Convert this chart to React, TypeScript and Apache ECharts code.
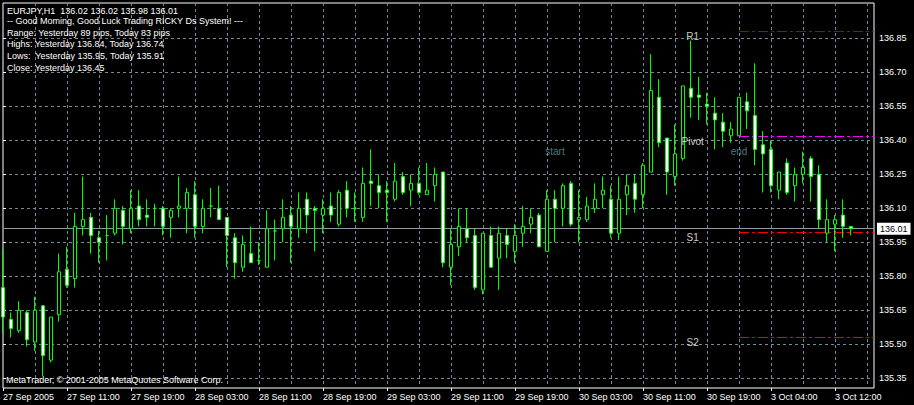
import React, { useEffect, useRef } from 'react';
import * as echarts from 'echarts';

// ---- data (EURJPY, H1) ----
const opens = [
  135.75, 135.61, 135.56, 135.64, 135.51, 135.67, 135.43, 135.63, 135.83, 135.79,
  136.02, 136.06, 135.97, 135.98, 135.99, 136.09, 136.01, 136.11, 136.07, 136.10,
  136.10, 136.06, 136.10, 136.10, 136.16, 136.02, 136.11, 136.10, 136.06, 135.97,
  135.84, 135.90, 135.87, 135.84, 136.00, 136.01, 136.07, 136.01, 136.14, 136.10,
  136.07, 136.11, 136.03, 136.18, 136.10, 136.06, 136.22, 136.20, 136.18, 136.14,
  136.24, 136.18, 136.21, 136.16, 136.20, 136.26, 135.84, 135.93, 136.01, 135.98,
  135.74, 135.98, 135.88, 135.98, 135.91, 135.99, 136.03, 136.07, 135.91, 136.14,
  136.10, 136.21, 136.05, 136.05, 136.10, 136.16, 136.14, 135.99, 136.16, 136.21,
  136.16, 136.26, 136.59, 136.41, 136.24, 136.32, 136.63, 136.60, 136.56, 136.52,
  136.48, 136.42, 136.42, 136.57, 136.51, 136.38, 136.36, 136.18, 136.30, 136.20,
  136.25, 136.32, 136.25, 135.99, 136.03, 136.07, 136.02,
];
const closes = [
  135.62, 135.57, 135.65, 135.52, 135.65, 135.45, 135.62, 135.82, 135.76, 136.02,
  136.05, 135.98, 135.95, 135.98, 136.10, 136.02, 136.10, 136.05, 136.06, 136.10,
  136.02, 136.09, 136.11, 136.17, 136.02, 136.10, 136.11, 136.05, 135.98, 135.86,
  135.94, 135.86, 135.87, 136.01, 136.00, 136.06, 136.02, 136.10, 136.07, 136.09,
  136.10, 136.07, 136.17, 136.10, 136.10, 136.21, 136.21, 136.17, 136.17, 136.22,
  136.17, 136.21, 136.17, 136.18, 136.25, 135.86, 135.94, 136.02, 135.97, 135.75,
  135.99, 135.84, 135.99, 135.94, 135.98, 136.02, 136.06, 135.93, 136.14, 136.10,
  136.20, 136.03, 136.06, 136.11, 136.14, 136.18, 135.99, 136.14, 136.20, 136.14,
  136.29, 136.62, 136.39, 136.26, 136.34, 136.64, 136.59, 136.59, 136.55, 136.49,
  136.44, 136.45, 136.59, 136.53, 136.36, 136.34, 136.20, 136.26, 136.17, 136.25,
  136.28, 136.24, 136.05, 136.05, 136.05, 136.02, 136.01,
];
const lows = [
  135.55, 135.53, 135.55, 135.49, 135.47, 135.36, 135.42, 135.60, 135.75, 135.75,
  135.98, 135.90, 135.86, 135.87, 135.98, 135.94, 135.99, 136.02, 136.02, 136.02,
  135.98, 135.97, 136.06, 135.99, 135.97, 135.99, 136.06, 136.05, 135.84, 135.79,
  135.82, 135.86, 135.85, 135.84, 135.87, 135.95, 135.86, 135.97, 135.99, 135.91,
  135.99, 136.04, 136.02, 136.06, 136.04, 136.04, 136.11, 136.10, 136.04, 136.13,
  136.16, 136.11, 136.16, 136.16, 136.13, 135.84, 135.76, 135.89, 135.95, 135.74,
  135.72, 135.84, 135.74, 135.88, 135.86, 135.93, 135.99, 135.93, 135.91, 135.95,
  136.02, 136.02, 135.95, 136.04, 136.08, 136.10, 135.97, 135.96, 136.07, 136.08,
  136.10, 136.26, 136.37, 136.16, 136.20, 136.31, 136.50, 136.49, 136.47, 136.36,
  136.37, 136.39, 136.42, 136.45, 136.29, 136.17, 136.17, 136.14, 136.16, 136.13,
  136.21, 136.13, 136.01, 135.95, 135.91, 135.97, 135.98,
];
const highs = [
  135.92, 135.64, 135.69, 135.65, 135.71, 135.67, 135.62, 135.90, 135.93, 136.08,
  136.24, 136.08, 136.00, 136.07, 136.14, 136.11, 136.18, 136.18, 136.14, 136.12,
  136.11, 136.10, 136.24, 136.19, 136.22, 136.14, 136.19, 136.20, 136.06, 135.99,
  135.98, 136.02, 135.95, 136.09, 136.05, 136.14, 136.11, 136.17, 136.17, 136.11,
  136.14, 136.17, 136.18, 136.22, 136.17, 136.28, 136.36, 136.25, 136.22, 136.30,
  136.26, 136.25, 136.28, 136.30, 136.28, 136.26, 136.01, 136.10, 136.10, 136.01,
  135.99, 136.02, 136.02, 136.01, 136.03, 136.11, 136.10, 136.08, 136.18, 136.18,
  136.21, 136.22, 136.18, 136.15, 136.21, 136.24, 136.20, 136.24, 136.25, 136.25,
  136.30, 136.78, 136.67, 136.41, 136.47, 136.64, 136.84, 136.68, 136.61, 136.59,
  136.52, 136.48, 136.59, 136.61, 136.74, 136.44, 136.40, 136.26, 136.32, 136.28,
  136.35, 136.33, 136.29, 136.14, 136.07, 136.14, 136.02,
];

const xTickIdx = [0, 8, 16, 24, 32, 40, 48, 56, 64, 72, 80, 88, 96, 104];
const xTickLabels = [
  '27 Sep 2005', '27 Sep 11:00', '27 Sep 19:00', '28 Sep 03:00', '28 Sep 11:00',
  '28 Sep 19:00', '29 Sep 03:00', '29 Sep 11:00', '29 Sep 19:00', '30 Sep 03:00',
  '30 Sep 11:00', '30 Sep 19:00', '3 Oct 04:00', '3 Oct 12:00',
];
const xGridIdx = [4, 8, 12, 16, 20, 24, 28, 32, 36, 40, 44, 48, 52, 56, 60, 64, 68, 72, 76, 80, 84, 88, 92, 96, 100, 104, 108];
const yTicks = [135.35, 135.5, 135.65, 135.8, 135.95, 136.1, 136.25, 136.4, 136.55, 136.7, 136.85];

const pivotNames = ['R1', 'Pivot', 'S1', 'S2'];
const pivotLevels = [136.88, 136.417, 135.993, 135.53];
const pivotColors = ['#2020ff', '#ff00ff', '#ff0000', '#ff0000'];
const pivotFromIdx = 92;
const pivotLabelIdx = 86.2;

const sessionNames = ['start', 'end'];
const sessionIdx = [69, 92];
const sessionLabelPrice = 136.35;

const infoLines = [
  'EURJPY,H1  136.02 136.02 135.98 136.01',
  '-- Good Moming, Good Luck Trading RICKY Ds System! ---',
  'Range: Yesterday 89 pips, Today 83 pips',
  'Highs: Yesterday 136.84, Today 136.74',
  'Lows:  Yesterday 135.95, Today 135.91',
  'Close: Yesterday 136.45',
];
const copyright = 'MetaTrader, \u00A9 2001-2005 MetaQuotes Software Corp.';

// axis extents
const X_MIN = 0;
const X_MAX = 108.875;
const Y_MIN = 135.307;
const Y_MAX = 137.006;

const FONT = '"Liberation Sans", Arial, sans-serif';
const FS = 9;
const GRID_LINE = { color: '#778899', type: [3, 3] as number[], width: 1 };

export default function App() {
  const ref = useRef<HTMLDivElement>(null);

  useEffect(() => {
    if (!ref.current) return;
    document.body.style.margin = '0';
    document.body.style.background = '#000';
    const chart = echarts.init(ref.current, undefined, { renderer: 'svg' });

    const candleData = opens.map((o, i) => [i, o, closes[i], lows[i], highs[i]]);
    const lastClose = closes[closes.length - 1];

    const graphics: any[] = infoLines.map((t, k) => ({
      type: 'text',
      x: 7,
      y: k === 0 ? 10.5 : 21 + (k - 1) * 11.7,
      style: { text: t, fill: '#fff', font: `${FS}px ${FONT}`, verticalAlign: 'middle' },
      z: 100,
    }));
    graphics.push({
      type: 'text',
      x: 6,
      y: 380,
      style: { text: copyright, fill: '#fff', font: `${FS}px ${FONT}`, verticalAlign: 'middle' },
      z: 100,
    });

    const pivotSeries = pivotLevels.map((lv, k) => ({
      type: 'line',
      xAxisIndex: 0,
      yAxisIndex: 0,
      silent: true,
      showSymbol: false,
      symbol: 'none',
      z: 2,
      data: [
        [pivotFromIdx, lv],
        [X_MAX, lv],
      ],
      lineStyle: { color: pivotColors[k], type: [10, 3, 3, 3], width: 1 },
    }));

    chart.setOption({
      animation: false,
      backgroundColor: '#000',
      grid: {
        left: 3,
        right: 40,
        top: 3,
        bottom: 17,
        show: true,
        borderColor: '#fff',
        borderWidth: 1,
        backgroundColor: '#000',
      },
      xAxis: [
        {
          type: 'value',
          min: X_MIN,
          max: X_MAX,
          position: 'bottom',
          axisLine: { show: false },
          axisTick: { show: true, customValues: xTickIdx, length: 3, lineStyle: { color: '#fff' } },
          axisLabel: {
            customValues: xTickIdx,
            formatter: (v: number) => {
              const k = xTickIdx.indexOf(Math.round(v));
              return k >= 0 ? xTickLabels[k] : '';
            },
            color: '#fff',
            fontSize: FS,
            fontFamily: FONT,
            align: 'left',
            margin: 4,
          },
          splitLine: { show: false },
        },
        {
          type: 'value',
          min: X_MIN,
          max: X_MAX,
          position: 'top',
          axisLine: { show: false },
          axisTick: { show: false, customValues: xGridIdx },
          axisLabel: { show: false, customValues: xGridIdx },
          splitLine: { show: true, lineStyle: GRID_LINE },
        },
      ],
      yAxis: {
        type: 'value',
        min: Y_MIN,
        max: Y_MAX,
        position: 'right',
        axisLine: { show: false },
        axisTick: { show: true, customValues: yTicks, length: 3, lineStyle: { color: '#fff' } },
        axisLabel: {
          customValues: yTicks,
          formatter: (v: number) => v.toFixed(2),
          color: '#fff',
          fontSize: FS,
          fontFamily: FONT,
          margin: 5,
        },
        splitLine: { show: true, lineStyle: GRID_LINE },
      },
      graphic: graphics,
      series: [
        ...pivotSeries,
        {
          type: 'candlestick',
          xAxisIndex: 0,
          yAxisIndex: 0,
          dimensions: ['idx', 'open', 'close', 'lowest', 'highest'],
          encode: { x: 'idx', y: ['open', 'close', 'lowest', 'highest'] },
          data: candleData,
          barWidth: 4,
          z: 3,
          itemStyle: {
            color: '#000',
            color0: '#fff',
            borderColor: '#00ff00',
            borderColor0: '#00ff00',
            borderColorDoji: '#00ff00',
            borderWidth: 1,
          },
          markLine: {
            silent: true,
            symbol: 'none',
            z: 2,
            animation: false,
            data: [
              {
                yAxis: lastClose,
                lineStyle: { color: '#8f99a3', type: 'solid', width: 1 },
                label: {
                  show: true,
                  position: 'end',
                  distance: 3,
                  formatter: () => lastClose.toFixed(2),
                  color: '#000',
                  backgroundColor: '#fff',
                  padding: [2, 3, 1, 3],
                  fontSize: FS,
                  fontFamily: FONT,
                },
              },
            ],
          },
        },
        {
          type: 'scatter',
          xAxisIndex: 0,
          yAxisIndex: 0,
          symbolSize: 0,
          silent: true,
          z: 5,
          data: pivotLevels.map((lv, k) => ({ value: [pivotLabelIdx, lv], name: pivotNames[k] })),
          label: {
            show: true,
            position: 'bottom',
            distance: 0,
            formatter: (p: any) => p.name,
            color: '#fff',
            fontSize: 10,
            fontFamily: FONT,
          },
        },
        {
          type: 'scatter',
          xAxisIndex: 0,
          yAxisIndex: 0,
          symbolSize: 0,
          silent: true,
          z: 5,
          data: sessionIdx.map((ix, k) => ({ value: [ix, sessionLabelPrice], name: sessionNames[k] })),
          label: {
            show: true,
            position: 'inside',
            formatter: (p: any) => p.name,
            color: '#5f9ea0',
            fontSize: 10,
            fontFamily: FONT,
          },
        },
      ],
    });

    return () => chart.dispose();
  }, []);

  return (
    <div
      ref={ref}
      style={{ position: 'fixed', left: 0, top: 0, width: 914, height: 405, background: '#000' }}
    />
  );
}
